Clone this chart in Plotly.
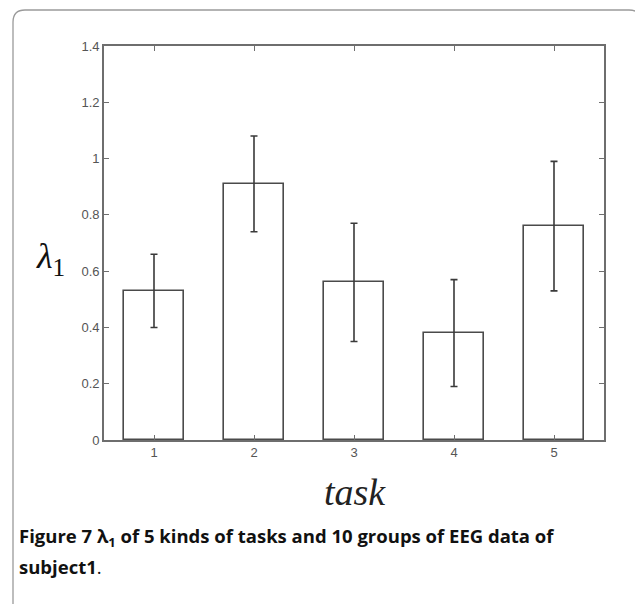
import plotly.graph_objects as go

tasks = [1, 2, 3, 4, 5]
lambda1 = [0.53, 0.91, 0.56, 0.38, 0.76]
err = [0.13, 0.17, 0.21, 0.19, 0.23]
y_ticks = [0, 0.2, 0.4, 0.6, 0.8, 1.0, 1.2, 1.4]
y_tick_labels = ["0", "0.2", "0.4", "0.6", "0.8", "1", "1.2", "1.4"]

W, H = 635, 604
L, R, T, B = 104, 31, 46, 164
pw, ph = W - L - R, H - T - B

def px(x):
    return (x - L) / pw

def py(y):
    return (H - B - y) / ph

fig = go.Figure()
fig.add_trace(go.Bar(
    x=tasks, y=lambda1, width=0.6,
    marker=dict(color="white", line=dict(color="#4a4a4a", width=1.6)),
    error_y=dict(type="data", array=err, visible=True, color="#3a3a3a",
                 thickness=1.6, width=3.5),
    showlegend=False,
))

axis_common = dict(showline=True, linecolor="#6e6e6e", linewidth=1.6,
                   mirror="ticks", ticks="inside", ticklen=5, tickwidth=1.3,
                   tickcolor="#6e6e6e", showgrid=False, zeroline=False,
                   tickfont=dict(family="Liberation Sans, Arial", size=13, color="#555555"))

fig.update_xaxes(range=[0.5, 5.5], tickvals=tasks, ticktext=[str(t) for t in tasks], **axis_common)
fig.update_yaxes(range=[0, 1.4], tickvals=y_ticks, ticktext=y_tick_labels, **axis_common)

# rounded frame
r = 12
x0, y0, x1 = 13, 10, 641
path = (f"M {px(x0)},{py(H + 5)} L {px(x0)},{py(y0 + r)} "
        f"Q {px(x0)},{py(y0)} {px(x0 + r)},{py(y0)} "
        f"L {px(x1 - r)},{py(y0)} Q {px(x1)},{py(y0)} {px(x1)},{py(y0 + r)} "
        f"L {px(x1)},{py(H + 5)}")
fig.add_shape(type="path", path=path, xref="paper", yref="paper",
              line=dict(color="#9a9a9a", width=1.3))

fig.add_annotation(text="<i>λ</i><sub>1</sub>", xref="paper", yref="paper",
                   x=px(34), y=py(258), xanchor="left", showarrow=False,
                   font=dict(family="Liberation Serif, Times New Roman", size=36, color="#111111"))
fig.add_annotation(text="<i>task</i>", xref="paper", yref="paper",
                   x=px(355), y=py(515), showarrow=False,
                   font=dict(family="Liberation Serif, Times New Roman", size=38, color="#222222"))
cap_font = dict(family="Open Sans, Noto Sans", size=18.5, color="#111111")
fig.add_annotation(
    text="<b>Figure 7 λ<sub>1</sub> of 5 kinds of tasks and 10 groups of EEG data of</b>",
    xref="paper", yref="paper", x=px(17), y=py(537), xanchor="left", yanchor="middle",
    align="left", showarrow=False, font=cap_font)
fig.add_annotation(
    text="<b>subject1</b>.",
    xref="paper", yref="paper", x=px(17), y=py(566), xanchor="left", yanchor="middle",
    align="left", showarrow=False, font=cap_font)

fig.update_layout(width=W, height=H, margin=dict(l=L, r=R, t=T, b=B),
                  paper_bgcolor="white", plot_bgcolor="white", bargap=0)

fig.write_html("out.html", config={"displayModeBar": False},
               post_script="document.body.style.margin='0';document.body.style.overflow='hidden';")
